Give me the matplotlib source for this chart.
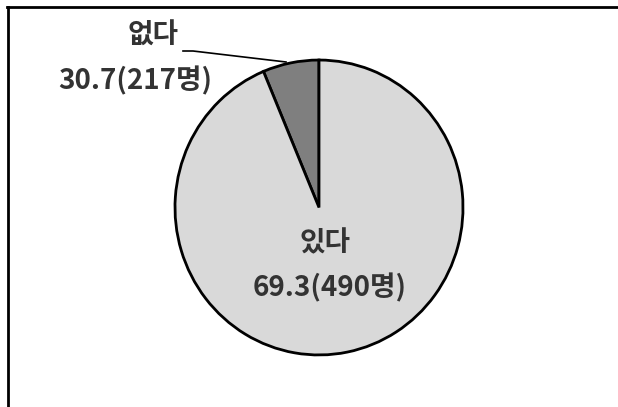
import matplotlib.pyplot as plt
from matplotlib.lines import Line2D

plt.rcParams['font.family'] = ['Noto Sans CJK KR', 'DejaVu Sans']

# wedge sizes as drawn in the picture, labels as printed
labels = ['없다', '있다']
sizes = [6.3, 93.7]
label_text = ['30.7(217명)', '69.3(490명)']
colors = ['#7f7f7f', '#d9d9d9']

W, H = 618, 407
sy = 1.024  # pie is drawn slightly taller than wide

fig = plt.figure(figsize=(W / 100, H / 100), dpi=100)
ax = fig.add_axes([0, 0, 1, 1])

cx, cy = 319, (H - 207.5) / sy
ax.pie(sizes, colors=colors, startangle=90, counterclock=True,
       center=(cx, cy), radius=144,
       wedgeprops=dict(edgecolor='black', linewidth=2))
ax.set_aspect('auto')
ax.set_xlim(0, W)
ax.set_ylim(0, H / sy)
ax.axis('off')


def py(y):
    # pixel row -> data y
    return (H - y) / sy


# leader line for the small slice
ax.plot([183, 193, 286], [py(51), py(51), py(62)], color='black', lw=1.2)

tkw = dict(fontsize=20, color='#333333', ha='center', va='center',
           fontweight='bold')
ax.text(153, py(36), labels[0], **tkw)
ax.text(135, py(81), label_text[0], **tkw)
ax.text(325, py(243), labels[1], **tkw)
ax.text(330, py(288), label_text[1], **tkw)

# frame (top and left edges only are visible)
fig.add_artist(Line2D([7 / W, 1], [1 - 7 / H, 1 - 7 / H], color='black', lw=2,
                      transform=fig.transFigure))
fig.add_artist(Line2D([8 / W, 8 / W], [0, 1 - 7 / H], color='black', lw=2,
                      transform=fig.transFigure))

fig.savefig('out.png', dpi=100)
